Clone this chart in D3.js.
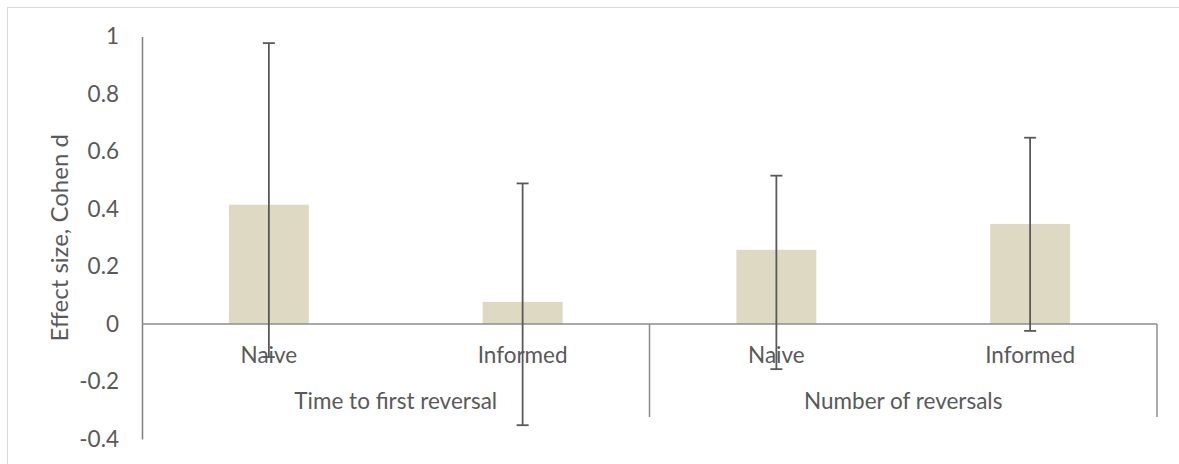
<!DOCTYPE html>
<html>
<head>
<meta charset="utf-8">
<script src="https://cdn.jsdelivr.net/npm/d3@7"></script>
<style>
  html, body { margin: 0; padding: 0; background: #fff; }
  svg { display: block; }
  text { font-family: Lato, "Open Sans", sans-serif; fill: #595959; }
</style>
</head>
<body>
<svg id="chart" width="1179" height="464"></svg>
<script>
const groups = ["Time to first reversal", "Number of reversals"];
const categories = ["Naive", "Informed", "Naive", "Informed"];
const groupOf = [0, 0, 1, 1];
const values = [0.415, 0.077, 0.258, 0.348];
const errHigh = [0.977, 0.489, 0.516, 0.648];
const errLow = [-0.115, -0.352, -0.157, -0.024];
const yTicks = [-0.4, -0.2, 0, 0.2, 0.4, 0.6, 0.8, 1];
const yTickLabels = ["-0.4", "-0.2", "0", "0.2", "0.4", "0.6", "0.8", "1"];
const yTitle = "Effect size, Cohen d";

const W = 1179, H = 464;
const svg = d3.select("#chart");

// chart border
svg.append("rect").attr("x", 7.5).attr("y", 7.5).attr("width", W).attr("height", H)
  .attr("fill", "none").attr("stroke", "#d9d9d9").attr("stroke-width", 1);

const left = 142, right = 1157;
const x = d3.scaleBand().domain(d3.range(categories.length)).range([left, right]).padding(0);
const y = d3.scaleLinear().domain([-0.4, 1]).range([439, 36.5]);
const barW = x.bandwidth() * 0.315;

// bars
svg.append("g").selectAll("rect").data(values).join("rect")
  .attr("x", (d, i) => x(i) + x.bandwidth() / 2 - barW / 2)
  .attr("width", barW)
  .attr("y", d => Math.min(y(d), y(0)))
  .attr("height", d => Math.abs(y(d) - y(0)))
  .attr("fill", "#ddd9c3");

// y axis
const yAxis = d3.axisLeft(y).tickValues(yTicks).tickSize(0).tickPadding(23)
  .tickFormat((d, i) => yTickLabels[i]);
const gy = svg.append("g").attr("transform", `translate(${left},0)`).call(yAxis);
gy.select(".domain").attr("stroke", "#7f7f7f").attr("stroke-width", 1.5);
gy.selectAll("text").attr("font-size", 22.5).style("fill", "#595959")
  .attr("font-family", "Lato, sans-serif");

// zero / category axis line
svg.append("line").attr("x1", left).attr("x2", right).attr("y1", y(0)).attr("y2", y(0))
  .attr("stroke", "#8c8c8c").attr("stroke-width", 1.5);

// group dividers
const divBottom = 417;
const boundaries = [];
for (let i = 1; i < categories.length; i++) if (groupOf[i] !== groupOf[i - 1]) boundaries.push(x(i));
boundaries.push(right);
svg.append("g").selectAll("line").data(boundaries).join("line")
  .attr("x1", d => d).attr("x2", d => d).attr("y1", y(0)).attr("y2", divBottom)
  .attr("stroke", "#8c8c8c").attr("stroke-width", 1.5);

// category labels
svg.append("g").selectAll("text").data(categories).join("text")
  .attr("x", (d, i) => x(i) + x.bandwidth() / 2)
  .attr("y", 363)
  .attr("text-anchor", "middle")
  .attr("font-size", 22.5)
  .text(d => d);

// group labels
svg.append("g").selectAll("text").data(groups).join("text")
  .attr("x", (d, gi) => {
    const idx = d3.range(categories.length).filter(i => groupOf[i] === gi);
    return (x(idx[0]) + x(idx[idx.length - 1]) + x.bandwidth()) / 2;
  })
  .attr("y", 409)
  .attr("text-anchor", "middle")
  .attr("font-size", 22.5)
  .text(d => d);

// error bars
const eg = svg.append("g").attr("stroke", "#595959").attr("stroke-width", 1.8);
values.forEach((v, i) => {
  const cx = x(i) + x.bandwidth() / 2;
  eg.append("line").attr("x1", cx).attr("x2", cx).attr("y1", y(errHigh[i])).attr("y2", y(errLow[i]));
  [errHigh[i], errLow[i]].forEach(e => {
    eg.append("line").attr("x1", cx - 6).attr("x2", cx + 6).attr("y1", y(e)).attr("y2", y(e));
  });
});

// y title
svg.append("text")
  .attr("transform", `translate(68,${(y(1) + y(-0.4)) / 2}) rotate(-90)`)
  .attr("text-anchor", "middle")
  .attr("font-size", 24)
  .text(yTitle);
</script>
</body>
</html>
